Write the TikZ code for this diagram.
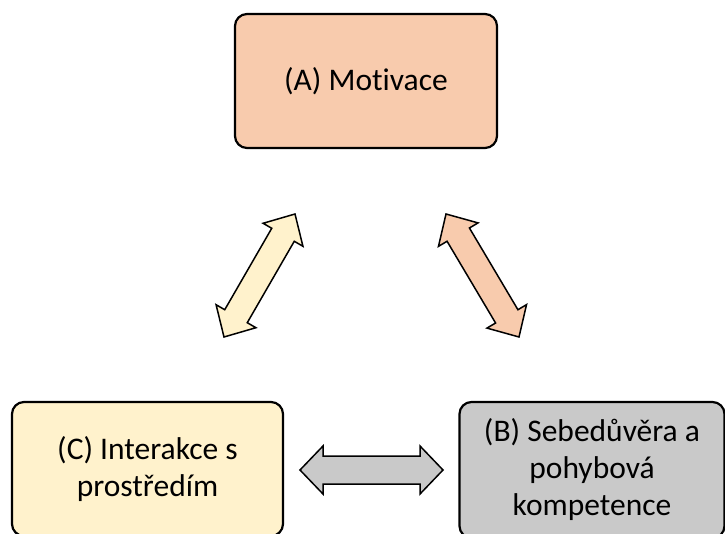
\documentclass[tikz,border=0pt]{standalone}
\usepackage{fontspec}
\setmainfont[Ligatures=NoCommon]{Carlito}
\usetikzlibrary{calc}
\definecolor{peach}{HTML}{F8CBAD}
\definecolor{cream}{HTML}{FFF2CC}
\definecolor{greyb}{HTML}{C9C9C9}
\newcommand{\fatarr}[6]{%
\draw[#6] (#1) -- ($(#1)!#5!(#2)!#4!90:(#2)$) -- ($(#1)!#5!(#2)!#3!90:(#2)$)
 -- ($(#2)!#5!(#1)!#3!-90:(#1)$) -- ($(#2)!#5!(#1)!#4!-90:(#1)$) -- (#2)
 -- ($(#2)!#5!(#1)!#4!90:(#1)$) -- ($(#2)!#5!(#1)!#3!90:(#1)$)
 -- ($(#1)!#5!(#2)!#3!-90:(#2)$) -- ($(#1)!#5!(#2)!#4!-90:(#2)$) -- cycle;}
\tikzset{
  box/.style={draw=black, line width=2.2pt, rounded corners=12pt, align=center,
    font=\fontsize{31.5}{37}\selectfont, inner sep=0pt},
  fatline/.style={draw=black, line width=1.5pt, line join=miter}
}
\begin{document}
\begin{tikzpicture}[x=1pt,y=-1pt]
\clip (0,0) rectangle (725,534);
\node[box, fill=peach, minimum width=262pt, minimum height=134pt] (A) at (366,81) {(A) Motivace};
\node[box, fill=cream, minimum width=271pt, minimum height=134pt] (C) at (147.5,469) {(C) Interakce s\\prostředím};
\node[box, fill=greyb, minimum width=265pt, minimum height=136pt] (B) at (592,470) {(B) Sebedůvěra a\\pohybová\\kompetence};
\coordinate (l1) at (224,337);
\coordinate (l2) at (295,214);
\coordinate (r1) at (446,214);
\coordinate (r2) at (519,337);
\coordinate (h1) at (300,470);
\coordinate (h2) at (443,470);
\fatarr{l1}{l2}{13pt}{23pt}{24pt}{fatline, fill=cream}
\fatarr{r1}{r2}{13pt}{23pt}{24pt}{fatline, fill=peach}
\fatarr{h1}{h2}{14pt}{24pt}{23pt}{fatline, fill=greyb}
\end{tikzpicture}
\end{document}
